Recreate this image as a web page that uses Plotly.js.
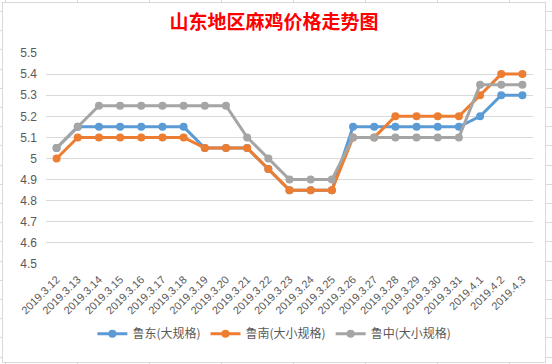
<!DOCTYPE html>
<html>
<head>
<meta charset="utf-8">
<script src="https://cdn.plot.ly/plotly-3.0.1.min.js"></script>
<style>
html, body { margin: 0; padding: 0; width: 552px; height: 364px; overflow: hidden; }
body {
  background-color: #ffffff;
  background-image:
    repeating-linear-gradient(to right, transparent 0px, transparent 5px, #d9d9d9 5px, #d9d9d9 6px, transparent 6px, transparent 72px),
    repeating-linear-gradient(to bottom, transparent 0px, transparent 11px, #d9d9d9 11px, #d9d9d9 12px, transparent 12px, transparent 19.2px);
}
#chart { position: absolute; left: 2px; top: 2px; width: 542px; height: 359px; border: 1px solid #d9d9d9; background: #fff; }
</style>
</head>
<body>
<div id="chart"></div>
<script>
const categories = ["2019.3.12","2019.3.13","2019.3.14","2019.3.15","2019.3.16","2019.3.17","2019.3.18","2019.3.19","2019.3.20","2019.3.21","2019.3.22","2019.3.23","2019.3.24","2019.3.25","2019.3.26","2019.3.27","2019.3.28","2019.3.29","2019.3.30","2019.3.31","2019.4.1","2019.4.2","2019.4.3"];
const ludong = [5.05,5.15,5.15,5.15,5.15,5.15,5.15,5.05,5.05,5.05,4.95,4.85,4.85,4.85,5.15,5.15,5.15,5.15,5.15,5.15,5.2,5.3,5.3];
const lunan  = [5.0,5.1,5.1,5.1,5.1,5.1,5.1,5.05,5.05,5.05,4.95,4.85,4.85,4.85,5.1,5.1,5.2,5.2,5.2,5.2,5.3,5.4,5.4];
const luzhong= [5.05,5.15,5.25,5.25,5.25,5.25,5.25,5.25,5.25,5.1,5.0,4.9,4.9,4.9,5.1,5.1,5.1,5.1,5.1,5.1,5.35,5.35,5.35];
const seriesNames = ["鲁东(大规格)","鲁南(大小规格)","鲁中(大小规格)"];
const colors = ["#5B9BD5","#ED7D31","#A5A5A5"];
const titleText = "山东地区麻鸡价格走势图";

const data = [ludong, lunan, luzhong].map((ys, i) => ({
  type: "scatter",
  mode: "lines+markers",
  x: categories,
  y: ys,
  name: seriesNames[i],
  line: { color: colors[i], width: 3 },
  marker: { color: colors[i], size: 8 }
}));

const layout = {
  width: 542, height: 359,
  margin: { l: 43, r: 12, t: 50, b: 98 },
  paper_bgcolor: "#ffffff",
  plot_bgcolor: "#ffffff",
  font: { family: "Liberation Sans, Arial, sans-serif", color: "#595959" },
  title: {
    text: titleText,
    x: 0.5, xanchor: "center",
    y: 0.945, yanchor: "middle",
    font: { family: "Noto Sans CJK SC", size: 19, color: "#FF0000", weight: "bold" }
  },
  xaxis: {
    type: "category",
    range: [-0.5, 22.5],
    tickangle: -45,
    showgrid: false,
    showline: false,
    zeroline: false,
    ticks: "",
    ticklabelstandoff: 6,
    tickfont: { size: 11, color: "#595959" },
    fixedrange: true
  },
  yaxis: {
    range: [4.5, 5.5],
    dtick: 0.1,
    tick0: 4.5,
    showgrid: true,
    gridcolor: "#d9d9d9",
    gridwidth: 1,
    zeroline: false,
    showline: false,
    ticks: "",
    ticklabelstandoff: 8,
    tickfont: { size: 12, color: "#595959" },
    fixedrange: true
  },
  legend: {
    orientation: "h",
    x: 0.469, xanchor: "center",
    y: -0.33, yanchor: "middle",
    font: { family: "Noto Sans CJK SC", size: 12, color: "#595959" },
    itemwidth: 30,
    tracegroupgap: 0
  },
  showlegend: true
};

Plotly.newPlot("chart", data, layout, { displayModeBar: false, staticPlot: true });
</script>
</body>
</html>
